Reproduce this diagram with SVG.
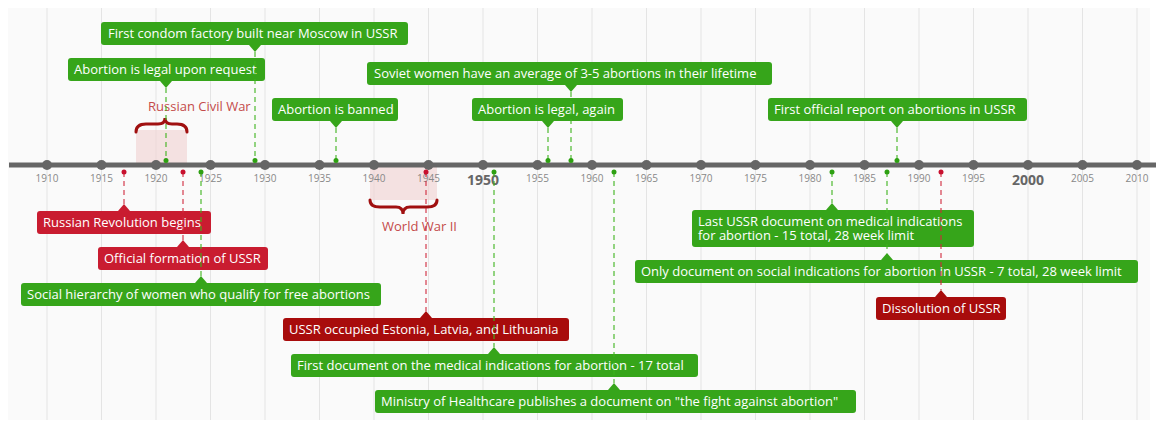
<svg xmlns="http://www.w3.org/2000/svg" width="1156" height="425" viewBox="0 0 1156 425">
<style>
.bg{fill:#fafafa}
.grid{stroke:#e4e4e4;stroke-width:1}
.axis{stroke:#666;stroke-width:5}
.tick{fill:#666}
.yr{font-family:"Open Sans",sans-serif;font-size:10px;fill:#888;text-anchor:middle}
.yrb{font-family:"Open Sans",sans-serif;font-size:14px;font-weight:bold;fill:#666;text-anchor:middle}
.g{fill:#36a51a}
.r{fill:#c91c30}
.d{fill:#a80c0c}
.lbl{font-family:"Open Sans",sans-serif;font-size:13px;fill:#fff}
.era{fill:#f0d0d0;fill-opacity:.6}
.brace{fill:none;stroke:#a01010;stroke-width:3;stroke-linecap:round}
.eralbl{font-family:"Open Sans",sans-serif;font-size:13px;fill:#c44a4a}
.dg{stroke:#3cb31c;stroke-opacity:.55;stroke-width:2;stroke-dasharray:5 4;fill:none}
.dr{stroke:#d0283c;stroke-opacity:.55;stroke-width:2;stroke-dasharray:5 4;fill:none}
.pg{fill:#2ea012}
.pr{fill:#c8102e}
</style>
<rect class="bg" x="8" y="8" width="1142" height="412"/>
<g id="grid">
<line class="grid" x1="47" y1="8" x2="47" y2="420"/>
<line class="grid" x1="101.5" y1="8" x2="101.5" y2="420"/>
<line class="grid" x1="156" y1="8" x2="156" y2="420"/>
<line class="grid" x1="210.5" y1="8" x2="210.5" y2="420"/>
<line class="grid" x1="265" y1="8" x2="265" y2="420"/>
<line class="grid" x1="319.5" y1="8" x2="319.5" y2="420"/>
<line class="grid" x1="374" y1="8" x2="374" y2="420"/>
<line class="grid" x1="428.5" y1="8" x2="428.5" y2="420"/>
<line class="grid" x1="483" y1="8" x2="483" y2="420"/>
<line class="grid" x1="537.5" y1="8" x2="537.5" y2="420"/>
<line class="grid" x1="592" y1="8" x2="592" y2="420"/>
<line class="grid" x1="646.5" y1="8" x2="646.5" y2="420"/>
<line class="grid" x1="701" y1="8" x2="701" y2="420"/>
<line class="grid" x1="755.5" y1="8" x2="755.5" y2="420"/>
<line class="grid" x1="810" y1="8" x2="810" y2="420"/>
<line class="grid" x1="864.5" y1="8" x2="864.5" y2="420"/>
<line class="grid" x1="919" y1="8" x2="919" y2="420"/>
<line class="grid" x1="973.5" y1="8" x2="973.5" y2="420"/>
<line class="grid" x1="1028" y1="8" x2="1028" y2="420"/>
<line class="grid" x1="1082.5" y1="8" x2="1082.5" y2="420"/>
<line class="grid" x1="1137" y1="8" x2="1137" y2="420"/>
</g>
<g id="eras">
<rect class="era" x="136" y="130" width="51" height="35"/>
<path class="brace" d="M136,132 Q136,124 146,124 L158,124 Q165,124 165,118 Q165,124 172,124 L177,124 Q187,124 187,132"/>
<text class="eralbl" x="148" y="111">Russian Civil War</text>
<rect class="era" x="370" y="165" width="67" height="35"/>
<path class="brace" d="M370,200 Q370,207 380,207 L396,207 Q403,207 403,214 Q403,207 410,207 L427,207 Q437,207 437,200"/>
<text class="eralbl" x="382" y="231">World War II</text>
</g>
<g id="axis">
<line class="axis" x1="9" y1="165" x2="1156" y2="165"/>
<circle class="tick" cx="47" cy="165" r="5"/><circle class="tick" cx="101.5" cy="165" r="5"/><circle class="tick" cx="156" cy="165" r="5"/><circle class="tick" cx="210.5" cy="165" r="5"/><circle class="tick" cx="265" cy="165" r="5"/><circle class="tick" cx="319.5" cy="165" r="5"/><circle class="tick" cx="374" cy="165" r="5"/><circle class="tick" cx="428.5" cy="165" r="5"/><circle class="tick" cx="483" cy="165" r="5"/><circle class="tick" cx="537.5" cy="165" r="5"/><circle class="tick" cx="592" cy="165" r="5"/><circle class="tick" cx="646.5" cy="165" r="5"/><circle class="tick" cx="701" cy="165" r="5"/><circle class="tick" cx="755.5" cy="165" r="5"/><circle class="tick" cx="810" cy="165" r="5"/><circle class="tick" cx="864.5" cy="165" r="5"/><circle class="tick" cx="919" cy="165" r="5"/><circle class="tick" cx="973.5" cy="165" r="5"/><circle class="tick" cx="1028" cy="165" r="5"/><circle class="tick" cx="1082.5" cy="165" r="5"/><circle class="tick" cx="1137" cy="165" r="5"/>
<text class="yr" x="47" y="182">1910</text><text class="yr" x="101.5" y="182">1915</text><text class="yr" x="156" y="182">1920</text><text class="yr" x="210.5" y="182">1925</text><text class="yr" x="265" y="182">1930</text><text class="yr" x="319.5" y="182">1935</text><text class="yr" x="374" y="182">1940</text><text class="yr" x="428.5" y="182">1945</text><text class="yrb" x="483" y="185">1950</text><text class="yr" x="537.5" y="182">1955</text><text class="yr" x="592" y="182">1960</text><text class="yr" x="646.5" y="182">1965</text><text class="yr" x="701" y="182">1970</text><text class="yr" x="755.5" y="182">1975</text><text class="yr" x="810" y="182">1980</text><text class="yr" x="864.5" y="182">1985</text><text class="yr" x="919" y="182">1990</text><text class="yr" x="973.5" y="182">1995</text><text class="yrb" x="1028" y="185">2000</text><text class="yr" x="1082.5" y="182">2005</text><text class="yr" x="1137" y="182">2010</text>
</g>
<g id="ev-condom"><rect class="g" x="101" y="22" width="307" height="23" rx="3"/><polygon class="g" points="249,45 261,45 255,52"/><text class="lbl" x="108" y="38">First condom factory built near Moscow in USSR</text></g>
<g id="ev-legal"><rect class="g" x="68" y="58" width="197" height="23" rx="3"/><polygon class="g" points="160,81 172,81 166,88"/><text class="lbl" x="74" y="74">Abortion is legal upon request</text></g>
<g id="ev-banned"><rect class="g" x="272" y="98" width="126" height="23" rx="3"/><polygon class="g" points="330,121 342,121 336,128"/><text class="lbl" x="278" y="114">Abortion is banned</text></g>
<g id="ev-average"><rect class="g" x="367" y="62" width="405" height="23" rx="3"/><polygon class="g" points="565,85 577,85 571,92"/><text class="lbl" x="374" y="78">Soviet women have an average of 3-5 abortions in their lifetime</text></g>
<g id="ev-legal-again"><rect class="g" x="472" y="98" width="151" height="23" rx="3"/><polygon class="g" points="542,121 554,121 548,128"/><text class="lbl" x="478" y="114">Abortion is legal, again</text></g>
<g id="ev-report"><rect class="g" x="768" y="98" width="259" height="23" rx="3"/><polygon class="g" points="891,121 903,121 897,128"/><text class="lbl" x="774" y="114">First official report on abortions in USSR</text></g>
<g id="ev-revolution"><rect class="r" x="37" y="211" width="174" height="23" rx="3"/><polygon class="r" points="118,211 130,211 124,204"/><text class="lbl" x="43" y="227">Russian Revolution begins</text></g>
<g id="ev-formation"><rect class="r" x="98" y="247" width="170" height="23" rx="3"/><polygon class="r" points="177,247 189,247 183,240"/><text class="lbl" x="104" y="263">Official formation of USSR</text></g>
<g id="ev-hierarchy"><rect class="g" x="21" y="283" width="360" height="23" rx="3"/><polygon class="g" points="195,283 207,283 201,276"/><text class="lbl" x="27" y="299">Social hierarchy of women who qualify for free abortions</text></g>
<g id="ev-occupied"><rect class="d" x="283" y="318" width="286" height="23" rx="3"/><polygon class="d" points="420,318 432,318 426,311"/><text class="lbl" x="289" y="334">USSR occupied Estonia, Latvia, and Lithuania</text></g>
<g id="ev-medical17"><rect class="g" x="291" y="354" width="407" height="23" rx="3"/><polygon class="g" points="488,354 500,354 494,347"/><text class="lbl" x="297" y="370">First document on the medical indications for abortion - 17 total</text></g>
<g id="ev-ministry"><rect class="g" x="375" y="390" width="481" height="23" rx="3"/><polygon class="g" points="608,390 620,390 614,383"/><text class="lbl" x="381" y="406">Ministry of Healthcare publishes a document on "the fight against abortion"</text></g>
<g id="ev-medical15"><rect class="g" x="692" y="210" width="282" height="37" rx="3"/><polygon class="g" points="826,210 838,210 832,203"/><text class="lbl" x="698" y="226">Last USSR document on medical indications<tspan x="698" y="240">for abortion - 15 total, 28 week limit</tspan></text></g>
<g id="ev-social7"><rect class="g" x="635" y="260" width="503" height="23" rx="3"/><polygon class="g" points="881,260 893,260 887,253"/><text class="lbl" x="641" y="276">Only document on social indications for abortion in USSR - 7 total, 28 week limit</text></g>
<g id="ev-dissolution"><rect class="d" x="876" y="297" width="130" height="23" rx="3"/><polygon class="d" points="935,297 947,297 941,290"/><text class="lbl" x="882" y="313">Dissolution of USSR</text></g>
<g id="connectors">
<line class="dg" x1="255" y1="52" x2="255" y2="160"/><circle class="pg" cx="255" cy="160.5" r="2.5"/>
<line class="dg" x1="166" y1="88" x2="166" y2="160"/><circle class="pg" cx="166" cy="160.5" r="2.5"/>
<line class="dg" x1="336" y1="128" x2="336" y2="160"/><circle class="pg" cx="336" cy="160.5" r="2.5"/>
<line class="dg" x1="571" y1="92" x2="571" y2="160"/><circle class="pg" cx="571" cy="160.5" r="2.5"/>
<line class="dg" x1="548" y1="128" x2="548" y2="160"/><circle class="pg" cx="548" cy="160.5" r="2.5"/>
<line class="dg" x1="897" y1="128" x2="897" y2="160"/><circle class="pg" cx="897" cy="160.5" r="2.5"/>
<line class="dr" x1="124" y1="172" x2="124" y2="204"/><circle class="pr" cx="124" cy="172" r="2.5"/>
<line class="dr" x1="183" y1="172" x2="183" y2="240"/><circle class="pr" cx="183" cy="172" r="2.5"/>
<line class="dg" x1="201" y1="172" x2="201" y2="276"/><circle class="pg" cx="201" cy="172" r="2.5"/>
<line class="dr" x1="426" y1="172" x2="426" y2="311"/><circle class="pr" cx="426" cy="172" r="2.5"/>
<line class="dg" x1="494" y1="172" x2="494" y2="347"/><circle class="pg" cx="494" cy="172" r="2.5"/>
<line class="dg" x1="614" y1="172" x2="614" y2="383"/><circle class="pg" cx="614" cy="172" r="2.5"/>
<line class="dg" x1="832" y1="172" x2="832" y2="203"/><circle class="pg" cx="832" cy="172" r="2.5"/>
<line class="dg" x1="887" y1="172" x2="887" y2="253"/><circle class="pg" cx="887" cy="172" r="2.5"/>
<line class="dr" x1="941" y1="172" x2="941" y2="290"/><circle class="pr" cx="941" cy="172" r="2.5"/>
</g>
</svg>
